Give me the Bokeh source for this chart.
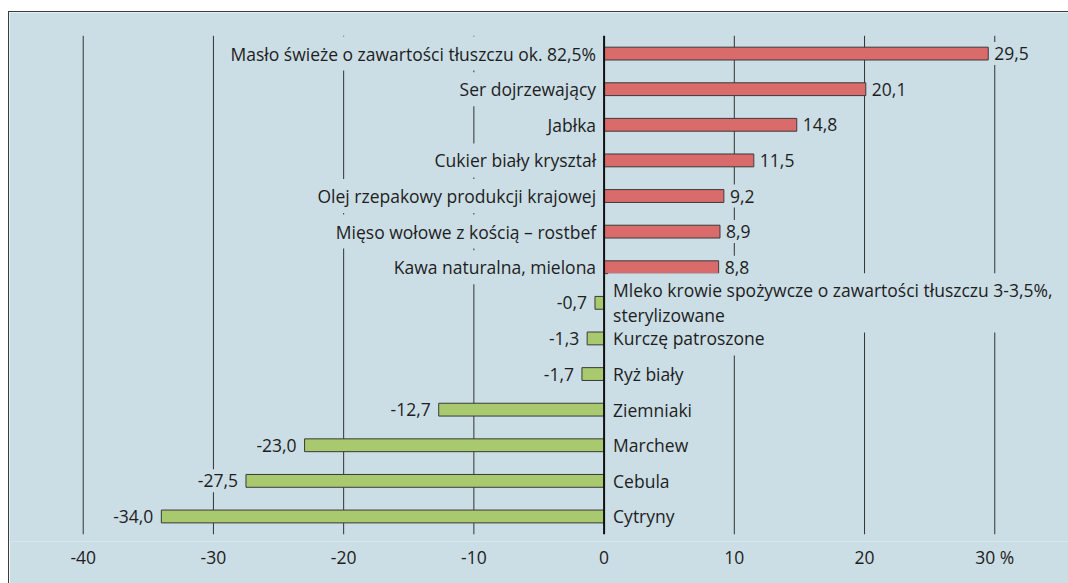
from bokeh.plotting import figure
from bokeh.models import ColumnDataSource, FixedTicker
from bokeh.core.properties import value
from bokeh.embed import file_html
from bokeh.resources import INLINE

categories = [
    "Masło świeże o zawartości tłuszczu ok. 82,5%",
    "Ser dojrzewający",
    "Jabłka",
    "Cukier biały kryształ",
    "Olej rzepakowy produkcji krajowej",
    "Mięso wołowe z kością – rostbef",
    "Kawa naturalna, mielona",
    "Mleko krowie spożywcze o zawartości tłuszczu 3-3,5%,\nsterylizowane",
    "Kurczę patroszone",
    "Ryż biały",
    "Ziemniaki",
    "Marchew",
    "Cebula",
    "Cytryny",
]
values = [29.5, 20.1, 14.8, 11.5, 9.2, 8.9, 8.8, -0.7, -1.3, -1.7, -12.7, -23.0, -27.5, -34.0]
value_labels = ["29,5", "20,1", "14,8", "11,5", "9,2", "8,9", "8,8",
                "-0,7", "-1,3", "-1,7", "-12,7", "-23,0", "-27,5", "-34,0"]
tick_values = [-40, -30, -20, -10, 0, 10, 20, 30]
tick_labels = ["-40", "-30", "-20", "-10", "0", "10", "20", "30 %"]

BG = "#cbdde5"
RED = "#d96b6b"
GREEN = "#a9c96e"
FONT = "Open Sans"
FS = "17.5px"

n = len(categories)
ypos = [n - 1 - i for i in range(n)]

bar_src = ColumnDataSource(dict(
    y=ypos, v=values,
    color=[RED if v > 0 else GREEN for v in values],
))

# draw lower rows first so that upper labels (two-line one) sit on top
order = list(range(n))[::-1]
cat_src = ColumnDataSource(dict(
    x=[0] * n,
    y=[ypos[i] for i in order],
    text=[categories[i] for i in order],
    off=[-3 if values[i] > 0 else 4 for i in order],
    align=["right" if values[i] > 0 else "left" for i in order],
))
val_src = ColumnDataSource(dict(
    x=values, y=ypos, text=value_labels,
    off=[1 if v > 0 else -3 for v in values],
    align=["left" if v > 0 else "right" for v in values],
))

p = figure(width=1060, height=572, output_backend="svg", toolbar_location=None,
           x_range=(-45.66, 35.74), y_range=(-0.703, 14.154),
           min_border_left=0, min_border_right=0, min_border_top=0, min_border_bottom=43)
p.margin = (11, 0, 0, 8)
p.styles = {"border-left": "1px solid #3c3c3c", "border-top": "1px solid #3c3c3c"}
p.background_fill_color = BG
p.border_fill_color = BG
p.outline_line_color = None
p.grid.visible = False
p.yaxis.visible = False

xa = p.xaxis[0]
xa.ticker = FixedTicker(ticks=tick_values)
xa.major_label_overrides = {t: l for t, l in zip(tick_values, tick_labels)}
xa.axis_line_color = None
xa.major_tick_line_color = None
xa.minor_tick_line_color = None
xa.major_label_text_font = FONT
xa.major_label_text_font_size = FS
xa.major_label_text_color = "#1e1e1e"
xa.major_label_standoff = -3

# gridlines spanning the row band
grid_x = [t for t in tick_values if t != 0]
p.segment(x0=grid_x, x1=grid_x, y0=[-0.5] * len(grid_x), y1=[n - 0.5] * len(grid_x),
          line_color="#333333", line_width=1)

p.hbar(y="y", left=0, right="v", height=0.36, source=bar_src,
       fill_color="color", line_color="#3a3a3a", line_width=1)

p.segment(x0=[0], x1=[0], y0=[-0.5], y1=[n - 0.5], line_color="#111111", line_width=2)

for src in (cat_src, val_src):
    p.text(x="x", y="y", text="text", source=src, x_offset="off",
           text_align="align", text_baseline="middle",
           text_font=value(FONT), text_font_size=FS, text_color="#1e1e1e",
           text_line_height=1.05, background_fill_color=BG, padding=5)

open("out.html", "w").write(file_html(p, INLINE))
